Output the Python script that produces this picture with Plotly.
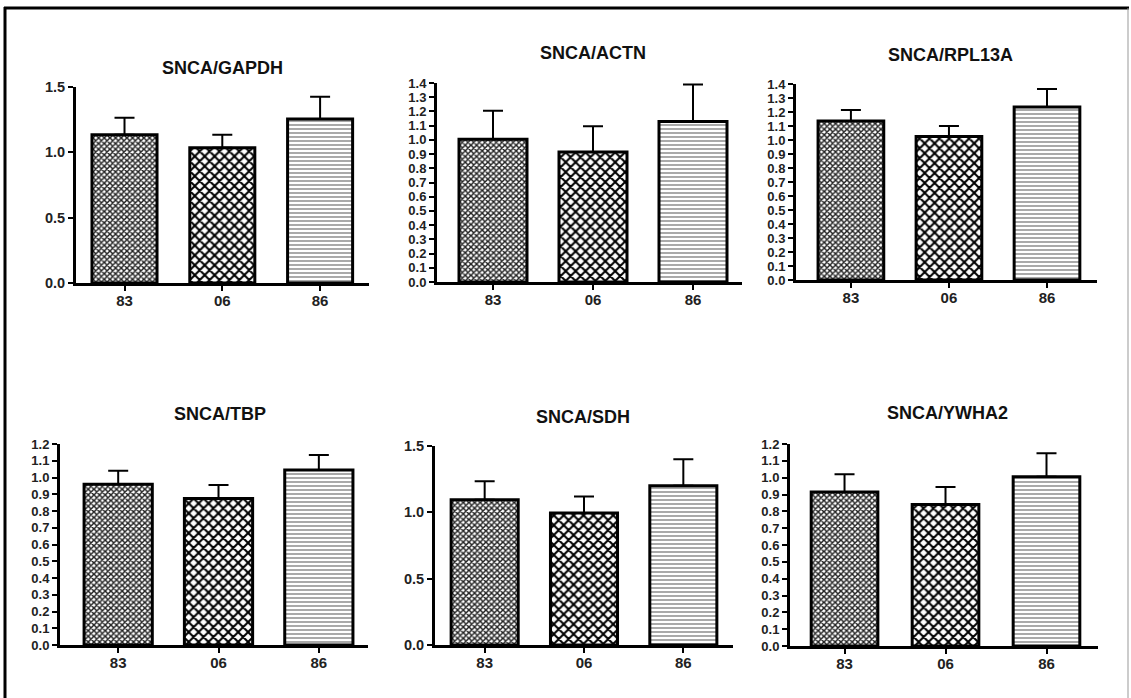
import plotly.graph_objects as go

W, H = 1131, 698

categories = ["83", "06", "86"]
titles = ["SNCA/GAPDH", "SNCA/ACTN", "SNCA/RPL13A", "SNCA/TBP", "SNCA/SDH", "SNCA/YWHA2"]

gapdh_mean = [1.135, 1.035, 1.255]
gapdh_sem = [0.13, 0.10, 0.17]
actn_mean = [1.005, 0.915, 1.13]
actn_sem = [0.20, 0.18, 0.26]
rpl13a_mean = [1.135, 1.025, 1.235]
rpl13a_sem = [0.08, 0.075, 0.13]
tbp_mean = [0.96, 0.875, 1.045]
tbp_sem = [0.08, 0.08, 0.09]
sdh_mean = [1.095, 0.995, 1.2]
sdh_sem = [0.14, 0.125, 0.20]
ywha2_mean = [0.915, 0.84, 1.005]
ywha2_sem = [0.105, 0.105, 0.14]

means = [gapdh_mean, actn_mean, rpl13a_mean, tbp_mean, sdh_mean, ywha2_mean]
sems = [gapdh_sem, actn_sem, rpl13a_sem, tbp_sem, sdh_sem, ywha2_sem]

y_max = [1.5, 1.4, 1.4, 1.2, 1.5, 1.2]
y_dtick = [0.5, 0.1, 0.1, 0.1, 0.5, 0.1]

# layout geometry (pixels): plot area left, right, top, bottom; category range
panels = [
    dict(l=76, r=369, t=87, b=283, xr=[-0.496, 2.50], bw=0.665, tx=222, ty=68, fs=14.5),
    dict(l=437, r=742, t=83, b=282, xr=[-0.56, 2.49], bw=0.68, tx=593, ty=53, fs=13),
    dict(l=796, r=1097, t=84, b=280, xr=[-0.56, 2.51], bw=0.67, tx=950, ty=55, fs=13),
    dict(l=60, r=368, t=444, b=645, xr=[-0.58, 2.49], bw=0.68, tx=220, ty=414, fs=13),
    dict(l=435, r=733, t=446, b=645, xr=[-0.50, 2.50], bw=0.675, tx=583, ty=417, fs=14.5),
    dict(l=790, r=1098, t=444, b=646, xr=[-0.54, 2.51], bw=0.66, tx=947, ty=413, fs=13),
]

FONT = "Liberation Sans, Arial, sans-serif"

fig = go.Figure()
annotations = []
for i, p in enumerate(panels):
    k = "" if i == 0 else str(i + 1)
    fig.add_trace(go.Bar(
        x=[0, 1, 2],
        y=means[i],
        width=p["bw"],
        xaxis="x" + k, yaxis="y" + k,
        marker=dict(
            color="white",
            line=dict(color="black", width=3),
            pattern=dict(
                shape=["x", "x", "-"],
                size=[4, 7, 4],
                solidity=[0.6, 0.5, 0.3],
                fgcolor=["#222222", "#000000", "#707070"],
                bgcolor="white",
                fillmode="replace",
            ),
        ),
        error_y=dict(type="data", symmetric=False, array=sems[i],
                     arrayminus=[0, 0, 0], color="black", thickness=2, width=10),
        showlegend=False,
        hoverinfo="skip",
    ))
    xd = [p["l"] / W, p["r"] / W]
    yd = [1 - p["b"] / H, 1 - p["t"] / H]
    fig.update_layout(**{
        "xaxis" + k: dict(
            domain=xd, anchor="y" + k, range=p["xr"], automargin=False,
            tickmode="array", tickvals=[0, 1, 2], ticktext=categories,
            showline=True, linecolor="black", linewidth=3,
            ticks="outside", ticklen=5, tickwidth=2, tickcolor="black",
            ticklabelstandoff=-3,
            showgrid=False, zeroline=False,
            tickfont=dict(family=FONT, size=15, color="#222", weight="bold"),
        ),
        "yaxis" + k: dict(
            domain=yd, anchor="x" + k, range=[0, y_max[i]], automargin=False,
            dtick=y_dtick[i], tick0=0,
            tickformat=".1f",
            showline=True, linecolor="black", linewidth=3,
            ticks="outside", ticklen=5, tickwidth=2, tickcolor="black",
            showgrid=False, zeroline=False,
            tickfont=dict(family=FONT, size=p["fs"], color="#222", weight="bold"),
        ),
    })
    annotations.append(dict(
        text="<b>" + titles[i] + "</b>", xref="paper", yref="paper",
        x=p["tx"] / W, y=1 - p["ty"] / H, xanchor="center", yanchor="middle",
        showarrow=False, font=dict(family=FONT, size=18, color="#111"),
    ))

shapes = [
    dict(type="line", xref="paper", yref="paper", x0=5 / W, x1=5 / W, y0=0, y1=1 - 7 / H,
         line=dict(color="black", width=3)),
    dict(type="line", xref="paper", yref="paper", x0=4 / W, x1=1129 / W, y0=1 - 8 / H, y1=1 - 8 / H,
         line=dict(color="black", width=3)),
    dict(type="line", xref="paper", yref="paper", x0=1128 / W, x1=1128 / W, y0=0, y1=1 - 8 / H,
         line=dict(color="#999999", width=1)),
]

fig.update_layout(
    width=W, height=H, autosize=False,
    margin=dict(l=0, r=0, t=0, b=0, pad=0, autoexpand=False),
    paper_bgcolor="white", plot_bgcolor="white",
    annotations=annotations, shapes=shapes,
    bargap=0.3,
)

fig.write_html("out.html", config={"displayModeBar": False},
               post_script="document.body.style.margin='0';document.body.style.overflow='hidden';")
